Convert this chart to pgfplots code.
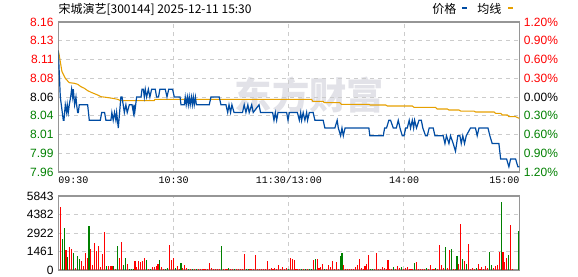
\documentclass[border=0pt]{standalone}
\usepackage{fontspec}
\setmainfont{Liberation Sans}
\newfontfamily\cjk{Noto Sans CJK SC}
\newfontfamily\monof{Liberation Mono}
\usepackage{pgfplots}
\pgfplotsset{compat=1.18}
\definecolor{pred}{RGB}{255,0,0}
\definecolor{pgreen}{RGB}{0,128,0}
\definecolor{pblue}{RGB}{0,76,163}
\definecolor{pavg}{RGB}{230,160,0}
\definecolor{gridc}{RGB}{204,204,204}
\definecolor{framec}{RGB}{150,150,150}
\definecolor{wm}{RGB}{226,226,232}
\begin{document}
\begin{tikzpicture}
\useasboundingbox (0,0) rectangle (433.5pt,207pt);
\node[text=wm, font=\cjk\bfseries\fontsize{28pt}{28pt}\selectfont] at (232pt,136pt) {东方财富};
% price axis
\begin{axis}[at={(43.7pt,78pt)}, anchor=south west, width=345.75pt, height=112.5pt, scale only axis,
 xmin=0, xmax=240, ymin=7.96328, ymax=8.15672,
 axis line style={framec, line width=0.8pt},
 xtick={0,60,120,180,240},
 xticklabels={\makebox[0pt][l]{09:30},10:30,11:30/13:00,14:00,\makebox[0pt][r]{15:00}},
 xticklabel style={font=\monof\fontsize{7.5pt}{8pt}\selectfont, text=black},
 ytick={7.96328,7.98746,8.01164,8.03582,8.06,8.08418,8.10836,8.13254,8.15672},
 yticklabels={\textcolor{pgreen}{7.96},\textcolor{pgreen}{7.99},\textcolor{pgreen}{8.01},\textcolor{pgreen}{8.04},\textcolor{black}{8.06},\textcolor{pred}{8.08},\textcolor{pred}{8.11},\textcolor{pred}{8.13},\textcolor{pred}{8.16}},
 yticklabel style={font=\fontsize{9pt}{10pt}\selectfont},
 grid=major, major grid style={gridc, dashed, line width=0.6pt},
 major tick length=0pt, tick style={draw=none},
 clip=true]
\addplot[pavg, line width=0.8pt] coordinates {
(0,8.12)(0.5,8.114)(1.9,8.093)(3.7,8.084)(5.7,8.0785)(8.3,8.0777)(10.1,8.0764)(11.8,8.0733)(13.6,8.0712)(15.3,8.0682)(17.5,8.0656)(20.5,8.0626)(22.2,8.0604)(24.8,8.0596)(28.3,8.0583)(30.9,8.057)(32.6,8.0553)(50.0,8.0553)(50.3,8.057)(131.9,8.057)(132.5,8.0544)(137.9,8.0544)(138.5,8.0527)(146.6,8.0527)(147.5,8.0505)(161.7,8.0505)(162.5,8.0497)(170.5,8.0497)(171.3,8.0484)(184.3,8.0484)(185.2,8.0467)(196.4,8.0467)(197.3,8.0445)(202.6,8.0445)(203.4,8.0432)(208.6,8.0432)(209.5,8.0419)(216.4,8.0419)(217.2,8.0407)(226.9,8.0407)(227.7,8.0389)(230.3,8.0389)(231.2,8.0368)(233.8,8.0368)(234.6,8.0346)(238.1,8.0346)(240,8.0325)};
\addplot[pblue, line width=0.9pt] coordinates {
(0,8.12)(0.54,8.09)(1.06,8.06)(1.58,8.05)(2.10,8.04)(2.62,8.03)(2.97,8.03)(3.66,8.05)(4.35,8.04)(4.70,8.05)(5.22,8.04)(5.74,8.05)(6.44,8.06)(6.96,8.07)(7.48,8.06)(7.83,8.07)(8.52,8.05)(9.21,8.06)(9.56,8.05)(10.08,8.04)(10.43,8.04)(10.95,8.05)(15.29,8.05)(16.15,8.03)(21.9,8.03)(22.6,8.04)(24.1,8.04)(24.8,8.03)(27.4,8.03)(27.9,8.04)(28.6,8.03)(29.3,8.04)(30.0,8.03)(30.4,8.04)(31.25,8.02)(32.6,8.06)(33.2,8.06)(34.4,8.04)(35.2,8.05)(35.9,8.04)(37.0,8.05)(38.4,8.05)(39.1,8.04)(39.4,8.05)(39.8,8.04)(40.8,8.06)(43.1,8.06)(43.6,8.07)(44.3,8.07)(44.8,8.06)(45.3,8.07)(46.0,8.06)(46.9,8.07)(47.7,8.06)(48.6,8.07)(50.5,8.07)(51.2,8.06)(52.2,8.06)(52.9,8.07)(55.7,8.07)(56.6,8.06)(57.5,8.07)(59.5,8.07)(60.4,8.06)(63.4,8.06)(63.9,8.05)(65.6,8.05)(66.1,8.06)(66.6,8.05)(67.2,8.06)(67.7,8.05)(68.2,8.06)(68.7,8.05)(69.3,8.06)(69.8,8.05)(70.3,8.06)(70.8,8.05)(71.4,8.06)(71.9,8.05)(78.6,8.05)(79.5,8.06)(83.8,8.06)(84.7,8.05)(87.3,8.05)(88.2,8.04)(88.9,8.05)(89.7,8.04)(90.4,8.05)(91.5,8.04)(95.9,8.04)(96.8,8.05)(97.7,8.04)(98.7,8.05)(99.4,8.04)(100.7,8.05)(101.5,8.04)(104.5,8.05)(105.3,8.04)(111.6,8.04)(112.3,8.03)(113.0,8.04)(113.7,8.03)(114.4,8.04)(118.9,8.04)(119.6,8.03)(120.3,8.04)(124.5,8.04)(125.5,8.03)(126.2,8.04)(126.7,8.03)(127.5,8.04)(128.4,8.03)(129.3,8.04)(129.8,8.03)(130.7,8.04)(132.7,8.04)(133.6,8.03)(137.9,8.03)(138.8,8.02)(144.0,8.02)(145.2,8.03)(145.8,8.02)(147.0,8.01)(147.7,8.02)(148.4,8.01)(149.3,8.02)(150.5,8.02)(161.7,8.02)(162.2,8.01)(169.2,8.01)(169.9,8.02)(170.9,8.02)(172.1,8.03)(173.0,8.03)(174.4,8.02)(176.0,8.02)(177.0,8.03)(177.9,8.02)(179.1,8.01)(180.0,8.01)(180.9,8.02)(181.7,8.02)(182.7,8.03)(183.4,8.02)(184.3,8.03)(185.0,8.02)(185.5,8.03)(186.5,8.02)(187.8,8.03)(189.0,8.03)(189.8,8.02)(191.2,8.01)(192.1,8.01)(193.1,8.02)(195.2,8.02)(196.1,8.01)(200.4,8.01)(201.3,8.00)(202.1,8.01)(203.4,8.00)(204.2,8.01)(205.6,8.00)(206.8,7.99)(208.0,8.01)(209.1,8.01)(209.8,8.00)(210.6,8.01)(211.5,8.00)(212.4,8.01)(214.6,8.02)(217.2,8.02)(218.1,8.01)(219.0,8.02)(223.7,8.02)(224.7,8.01)(225.9,8.00)(229.4,8.00)(230.3,7.98)(233.4,7.98)(234.6,7.97)(235.5,7.98)(238.1,7.98)(239.3,7.97)(240,7.97)};
\end{axis}
% percentage axis (right)
\begin{axis}[at={(43.7pt,78pt)}, anchor=south west, width=345.75pt, height=112.5pt, scale only axis,
 xmin=0, xmax=240, ymin=-1.2, ymax=1.2,
 axis x line=none, axis y line*=right, y axis line style={draw=none},
 ytick={-1.2,-0.9,-0.6,-0.3,0,0.3,0.6,0.9,1.2},
 yticklabels={\textcolor{pgreen}{1.20\%},\textcolor{pgreen}{0.90\%},\textcolor{pgreen}{0.60\%},\textcolor{pgreen}{0.30\%},\textcolor{black}{0.00\%},\textcolor{pred}{0.30\%},\textcolor{pred}{0.60\%},\textcolor{pred}{0.90\%},\textcolor{pred}{1.20\%}},
 yticklabel style={font=\fontsize{9pt}{10pt}\selectfont},
 major tick length=0pt, tick style={draw=none}]
\end{axis}
% volume axis
\begin{axis}[at={(43.7pt,4.5pt)}, anchor=south west, width=345.75pt, height=55.5pt, scale only axis,
 xmin=-0.04, xmax=240.5, ymin=0, ymax=5843,
 axis line style={framec, line width=0.8pt},
 xtick={60.1,120.2,180.2}, xticklabels={},
 ytick={0,1461,2922,4382,5843}, yticklabels={0,1461,2922,4382,5843},
 yticklabel style={font=\fontsize{9pt}{10pt}\selectfont},
 grid=major, major grid style={gridc, dashed, line width=0.6pt},
 major tick length=0pt, tick style={draw=none}]
\addplot[ycomb, pred, line width=0.8pt] coordinates {
(1,4944)(4,1578)(6,1815)(7,1657)(9,158)(12,710)(13,342)(14,1315)(15,947)(17,1657)(18,421)(19,2130)(20,1525)(21,1894)(22,237)(23,1262)(24,2998)(26,316)(27,316)(28,316)(30,79)(32,947)(33,2209)(36,473)(40,710)(41,237)(42,710)(43,631)(44,736)(45,947)(47,79)(49,237)(50,237)(51,316)(52,473)(54,237)(55,79)(58,1973)(59,789)(60,947)(62,316)(63,79)(65,158)(66,395)(67,158)(69,79)(71,79)(73,79)(74,79)(75,79)(76,79)(77,79)(78,79)(79,552)(80,158)
(81,79)(82,79)(83,79)(84,79)(86,79)(87,79)(88,79)(90,79)(91,79)(93,79)(94,79)(95,79)(96,79)(97,1262)(100,79)(101,79)(102,79)(103,1184)(104,79)(105,79)(106,79)(107,79)(108,79)(109,710)(110,79)(111,158)(112,79)(113,158)(114,79)(115,395)(116,79)(117,237)(118,79)(119,158)(121,947)(122,868)(123,789)(124,79)(125,79)(126,79)(128,79)(130,79)(133,789)(135,868)(136,158)(137,237)(138,473)(140,79)(141,395)(142,237)(143,710)(144,79)(145,631)(146,79)(149,395)(150,79)(151,79)(152,79)(153,79)(154,79)(155,237)(156,395)(157,868)(158,158)(159,79)(160,316)
(161,473)(162,1184)(165,79)(166,1341)(167,79)(168,79)(169,237)(170,158)(171,79)(172,789)(173,79)(174,79)(176,79)(177,316)(178,158)(180,79)(181,158)(182,237)(183,79)(184,79)(185,79)(187,631)(188,79)(189,79)(190,79)(191,79)(193,79)(194,395)(195,79)(196,79)(198,79)(199,1973)(200,395)(201,158)(203,158)(204,1578)(206,79)(207,79)(209,473)(210,3630)(212,710)(214,2052)(215,79)(216,158)(217,79)(219,473)(220,79)(221,237)(222,79)(223,316)(224,158)(227,158)(228,316)(229,395)(230,1420)(232,1420)(233,631)(234,947)(236,3551)(237,79)};
\addplot[ycomb, pgreen, line width=0.8pt] coordinates {
(2,2446)(3,3314)(5,1026)(8,1315)(10,1105)(11,868)(16,3472)(25,316)(29,316)(31,1894)(34,395)(35,947)(37,79)(38,79)(39,79)(46,789)(48,79)(53,789)(56,79)(57,158)(61,158)(64,552)(68,79)(70,79)(72,79)(85,1894)(89,158)(92,79)(98,79)(99,79)(120,79)(127,79)(129,79)(131,79)(132,79)(134,868)(139,79)(147,1105)(148,1341)(163,79)(164,79)(175,237)(179,237)(186,552)(192,158)(197,158)(202,1815)(205,1657)(208,1105)(211,868)(213,473)(218,158)(225,1420)(226,395)(231,5365)(235,1184)(240,3077)};
\end{axis}
% title and legend
\node[anchor=base west, font=\cjk\fontsize{9pt}{10pt}\selectfont, inner sep=0pt] at (43.7pt,197pt) {宋城演艺[300144] 2025-12-11 15:30};
\node[anchor=base west, font=\cjk\fontsize{9pt}{10pt}\selectfont, inner sep=0pt] at (324pt,197pt) {价格};
\fill[pblue] (346.7pt,200.5pt) rectangle (350.5pt,202pt);
\node[anchor=base west, font=\cjk\fontsize{9pt}{10pt}\selectfont, inner sep=0pt] at (357.75pt,197pt) {均线};
\fill[pavg] (381pt,200.5pt) rectangle (384.75pt,202pt);
\end{tikzpicture}
\end{document}
